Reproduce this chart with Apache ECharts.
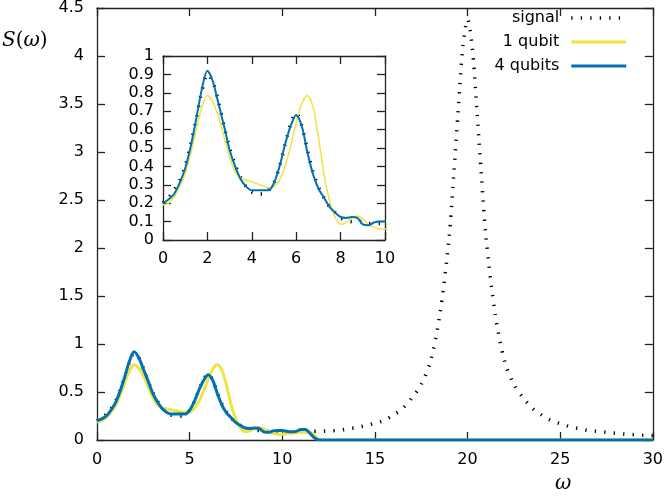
<!DOCTYPE html>
<html>
<head>
<meta charset="utf-8">
<script src="https://cdn.jsdelivr.net/npm/echarts@6/dist/echarts.min.js"></script>
<style>html,body{margin:0;padding:0;background:#fff}#c{width:666px;height:496px}</style>
</head>
<body>
<div id="c"></div>
<script>
// ---- data ----
const seriesNames = ['signal', '1 qubit', '4 qubits'];

const omegaQubit = [0,0.25,0.5,0.75,1,1.25,1.5,1.75,2,2.25,2.5,2.75,3,3.25,3.5,3.75,4,4.25,4.5,4.75,5,5.25,5.5,5.75,6,6.25,6.5,6.75,7,7.25,7.5,7.75,8,8.25,8.5,8.75,9,9.25,9.5,9.75,10,10.25,10.5,10.75,11,11.25,11.5,11.75,12,30];
const qubit1 = [0.19,0.20,0.235,0.29,0.36,0.47,0.60,0.72,0.785,0.75,0.67,0.56,0.45,0.37,0.335,0.325,0.315,0.305,0.295,0.285,0.29,0.325,0.40,0.51,0.635,0.74,0.785,0.725,0.56,0.36,0.215,0.125,0.085,0.095,0.12,0.13,0.115,0.085,0.07,0.06,0.06,0.065,0.07,0.075,0.08,0.08,0.075,0.05,0,0];
const qubit4 = [0.20,0.22,0.25,0.31,0.39,0.51,0.66,0.82,0.92,0.86,0.74,0.62,0.49,0.40,0.33,0.29,0.27,0.27,0.27,0.27,0.31,0.40,0.52,0.62,0.68,0.62,0.48,0.36,0.28,0.23,0.18,0.15,0.125,0.12,0.125,0.12,0.085,0.08,0.095,0.10,0.10,0.09,0.085,0.09,0.11,0.11,0.07,0.02,0,0];

const omegaSignal = [0,0.25,0.5,0.75,1,1.25,1.5,1.75,2,2.25,2.5,2.75,3,3.25,3.5,3.75,4,4.25,4.5,4.75,5,5.25,5.5,5.75,6,6.25,6.5,6.75,7,7.25,7.5,7.75,8,8.25,8.5,8.75,9,9.25,9.5,9.75,10,10.5,11,11.5,12,12.5,13,13.5,14,14.5,15,15.5,16,16.5,17,17.5,18,18.5,19,19.25,19.5,19.75,20,20.25,20.5,20.75,21,21.5,22,22.5,23,23.5,24,24.5,25,25.5,26,26.5,27,27.5,28,28.5,29,29.5,30];
const signal = [0.20,0.23,0.27,0.32,0.40,0.52,0.66,0.81,0.90,0.86,0.75,0.62,0.50,0.41,0.34,0.29,0.26,0.25,0.25,0.27,0.31,0.40,0.52,0.63,0.69,0.62,0.49,0.37,0.29,0.23,0.18,0.15,0.12,0.11,0.10,0.10,0.10,0.09,0.09,0.09,0.09,0.085,0.085,0.09,0.09,0.095,0.10,0.115,0.13,0.15,0.175,0.205,0.26,0.33,0.44,0.58,0.82,1.30,2.10,2.75,3.45,4.1,4.38,4.1,3.45,2.75,2.10,1.30,0.82,0.58,0.44,0.33,0.26,0.205,0.17,0.14,0.12,0.10,0.09,0.08,0.07,0.062,0.055,0.05,0.045];

const mainXTicks = {min: 0, max: 30, interval: 5};
const mainYTicks = {min: 0, max: 4.5, interval: 0.5};
const insetXTicks = {min: 0, max: 10, interval: 2};
const insetYTicks = {min: 0, max: 1, interval: 0.1};

// ---- build ----
const pairs = (xs, ys) => xs.map((x, i) => [x, ys[i]]);
const FONT = 'DejaVu Sans';
const AX = '#222';

function axis(grid, pos, ticks, showLabel, margin) {
  return {
    type: 'value', gridIndex: grid, position: pos,
    min: ticks.min, max: ticks.max, interval: ticks.interval,
    axisLine: {show: true, onZero: false, lineStyle: {color: AX, width: 1.3}},
    axisTick: {show: true, inside: true, length: 8, lineStyle: {color: AX, width: 1.3}},
    axisLabel: {show: showLabel, margin: margin, color: '#000', fontFamily: FONT, fontSize: 16},
    splitLine: {show: false}
  };
}

const colors = {signal: '#000000', q1: '#F0E442', q4: '#0072B2'};

function mkSeries(xi, yi, inset) {
  return [
    {name: 'signal', type: 'line', xAxisIndex: xi, yAxisIndex: yi, smooth: 0.3, symbol: 'none', showSymbol: false,
     data: pairs(omegaSignal, signal), z: 2,
     lineStyle: {color: colors.signal, width: 3.5, type: [1.3, 8.2], cap: 'butt'}, itemStyle: {color: colors.signal}},
    {name: '1 qubit', type: 'line', xAxisIndex: xi, yAxisIndex: yi, smooth: 0.3, symbol: 'none', showSymbol: false,
     data: pairs(omegaQubit, qubit1), z: 3,
     lineStyle: {color: colors.q1, width: inset ? 1.5 : 3}, itemStyle: {color: colors.q1}},
    {name: '4 qubits', type: 'line', xAxisIndex: xi, yAxisIndex: yi, smooth: 0.3, symbol: 'none', showSymbol: false,
     data: pairs(omegaQubit, qubit4), z: 4,
     lineStyle: {color: colors.q4, width: inset ? 2 : 3}, itemStyle: {color: colors.q4}}
  ];
}

const chart = echarts.init(document.getElementById('c'), null, {renderer: 'canvas'});
chart.setOption({
  animation: false,
  backgroundColor: '#fff',
  grid: [
    {left: 97, right: 12, top: 7, bottom: 56},
    {left: 163, top: 56, width: 222, height: 184}
  ],
  xAxis: [
    axis(0, 'bottom', mainXTicks, true, 12),
    axis(0, 'top', mainXTicks, false, 12),
    axis(1, 'bottom', insetXTicks, true, 11),
    axis(1, 'top', insetXTicks, false, 11)
  ],
  yAxis: [
    axis(0, 'left', mainYTicks, true, 13),
    axis(0, 'right', mainYTicks, false, 13),
    axis(1, 'left', insetYTicks, true, 9),
    axis(1, 'right', insetYTicks, false, 9)
  ],
  legend: {
    data: seriesNames,
    orient: 'vertical', align: 'right',
    right: 38, top: 10, padding: 0,
    itemWidth: 55, itemHeight: 14, itemGap: 8,
    textStyle: {color: '#000', fontFamily: FONT, fontSize: 16, padding: [0, 7, 0, 0]},
    lineStyle: {width: 'inherit'},
    itemStyle: {opacity: 0},
    selectedMode: false
  },
  graphic: [
    {type: 'text', left: 2, top: 31, style: {
      text: '{i|S}{u|(}{i|ω}{u|)}',
      rich: {
        i: {fontFamily: 'DejaVu Serif', fontStyle: 'italic', fontSize: 20, fill: '#000'},
        u: {fontFamily: 'DejaVu Serif', fontSize: 20, fill: '#000'}
      }}},
    {type: 'text', left: 555, top: 474, style: {
      text: 'ω', fontFamily: 'DejaVu Serif', fontStyle: 'italic', fontSize: 20, fill: '#000'}}
  ],
  series: [].concat(mkSeries(0, 0, false), mkSeries(2, 2, true))
});
</script>
</body>
</html>
